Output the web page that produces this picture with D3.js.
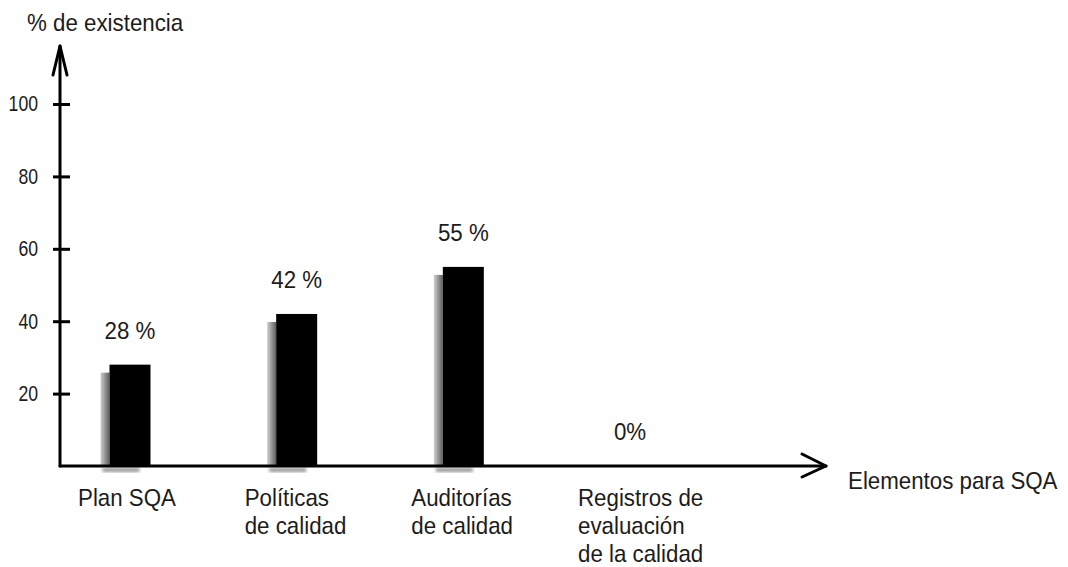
<!DOCTYPE html>
<html>
<head>
<meta charset="utf-8">
<script src="https://cdn.jsdelivr.net/npm/d3@7"></script>
<style>
  html, body { margin: 0; padding: 0; background: #fff; }
  svg { display: block; }
  text { font-family: "Liberation Sans", Arial, sans-serif; fill: #1c1c1c; }
</style>
</head>
<body>
<svg id="chart" width="1068" height="567"></svg>
<script>
// Elementos de aseguramiento de calidad (SQA) y su porcentaje de existencia
const categories = ["Plan SQA", "Políticas de calidad", "Auditorías de calidad", "Registros de evaluación de la calidad"];
const categoryLines = [["Plan SQA"], ["Políticas", "de calidad"], ["Auditorías", "de calidad"], ["Registros de", "evaluación", "de la calidad"]];
const values = [28, 42, 55, 0];
const valueLabels = ["28 %", "42 %", "55 %", "0%"];
const yTicks = [20, 40, 60, 80, 100];
const yTitle = "% de existencia";
const xTitle = "Elementos para SQA";

const svg = d3.select("#chart");

const originX = 60, baseY = 466;
const y = d3.scaleLinear().domain([0, 100]).range([baseY, 104]);
const x = d3.scalePoint().domain(categories).range([130, 630]);
const barW = 41, shadeW = 9, shadeDrop = 8;
const fontSize = 24, squeeze = 0.93;

// slightly condensed text placed at (px, py)
function label(sel, px, py) {
  return sel.attr("transform", (d, i) => `translate(${typeof px === "function" ? px(d, i) : px},${typeof py === "function" ? py(d, i) : py}) scale(${squeeze},1)`)
    .attr("font-size", fontSize);
}

// soft grey shading on the left side of each bar
const defs = svg.append("defs");
const grad = defs.append("linearGradient").attr("id", "shade").attr("x1", "0").attr("x2", "1").attr("y1", "0").attr("y2", "0");
grad.append("stop").attr("offset", "0%").attr("stop-color", "#d0d0d0");
grad.append("stop").attr("offset", "60%").attr("stop-color", "#8a8a8a");
grad.append("stop").attr("offset", "100%").attr("stop-color", "#5e5e5e");
defs.append("filter").attr("id", "soft").append("feGaussianBlur").attr("stdDeviation", 1.6);

// shadows under the bars, just below the axis
svg.append("g").selectAll("rect").data(values.filter(v => v > 0)).join("rect")
  .attr("x", (d, i) => x(categories[i]) - barW / 2 - shadeW + 2)
  .attr("y", baseY + 2)
  .attr("width", barW - 4)
  .attr("height", 4)
  .attr("fill", "#9a9a9a")
  .attr("filter", "url(#soft)");

// bars
const bars = svg.append("g");
bars.selectAll("rect.shade").data(values).join("rect")
  .attr("class", "shade")
  .attr("x", (d, i) => x(categories[i]) - barW / 2 - shadeW)
  .attr("y", d => Math.min(baseY, y(d) + shadeDrop))
  .attr("width", shadeW)
  .attr("height", d => Math.max(0, baseY - y(d) - shadeDrop))
  .attr("fill", "url(#shade)");
bars.selectAll("rect.bar").data(values).join("rect")
  .attr("class", "bar")
  .attr("x", (d, i) => x(categories[i]) - barW / 2)
  .attr("y", d => y(d))
  .attr("width", barW)
  .attr("height", d => baseY - y(d))
  .attr("fill", "#000")
  .attr("stroke", "#000")
  .attr("stroke-width", d => d === 0 ? 4 : 0);

// value labels
label(svg.append("g").selectAll("text").data(values).join("text"),
  (d, i) => x(categories[i]), d => y(d) - 26)
  .attr("text-anchor", "middle")
  .text((d, i) => valueLabels[i]);

// y axis ticks and labels
const yAxis = svg.append("g")
  .attr("transform", `translate(${originX},0)`)
  .call(d3.axisLeft(y).tickValues(yTicks).tickSize(7).tickFormat(d3.format("d")));
yAxis.select(".domain").remove();
yAxis.selectAll(".tick line").attr("x1", -7).attr("x2", 10).attr("stroke", "#000").attr("stroke-width", 3);
yAxis.selectAll(".tick text")
  .attr("x", null)
  .attr("transform", "translate(-22,0) scale(0.82,1)")
  .attr("font-size", 21.5)
  .attr("fill", "#1c1c1c")
  .style("font-family", "'Liberation Sans', Arial, sans-serif");

// axis lines with open arrowheads
const axes = svg.append("g").attr("fill", "none").attr("stroke", "#000").attr("stroke-width", 3)
  .attr("stroke-linecap", "round").attr("stroke-linejoin", "round");
axes.append("line").attr("x1", originX).attr("y1", baseY).attr("x2", originX).attr("y2", 46);
axes.append("path").attr("d", `M${originX - 7},75 L${originX},46 L${originX + 7},75`);
axes.append("line").attr("x1", originX).attr("y1", baseY).attr("x2", 826).attr("y2", baseY);
axes.append("path").attr("d", `M802,454 L826,${baseY} L802,477`);

// axis titles
label(svg.append("text"), 27, 31).text(yTitle);
label(svg.append("text"), 848, 489).text(xTitle);

// category labels, left aligned below each bar
label(svg.append("g").selectAll("text").data(categoryLines).join("text"),
  (d, i) => x(categories[i]) - 52, 506)
  .selectAll("tspan").data(d => d).join("tspan")
  .attr("x", 0)
  .attr("dy", (d, j) => j === 0 ? 0 : 28)
  .text(d => d);
</script>
</body>
</html>
